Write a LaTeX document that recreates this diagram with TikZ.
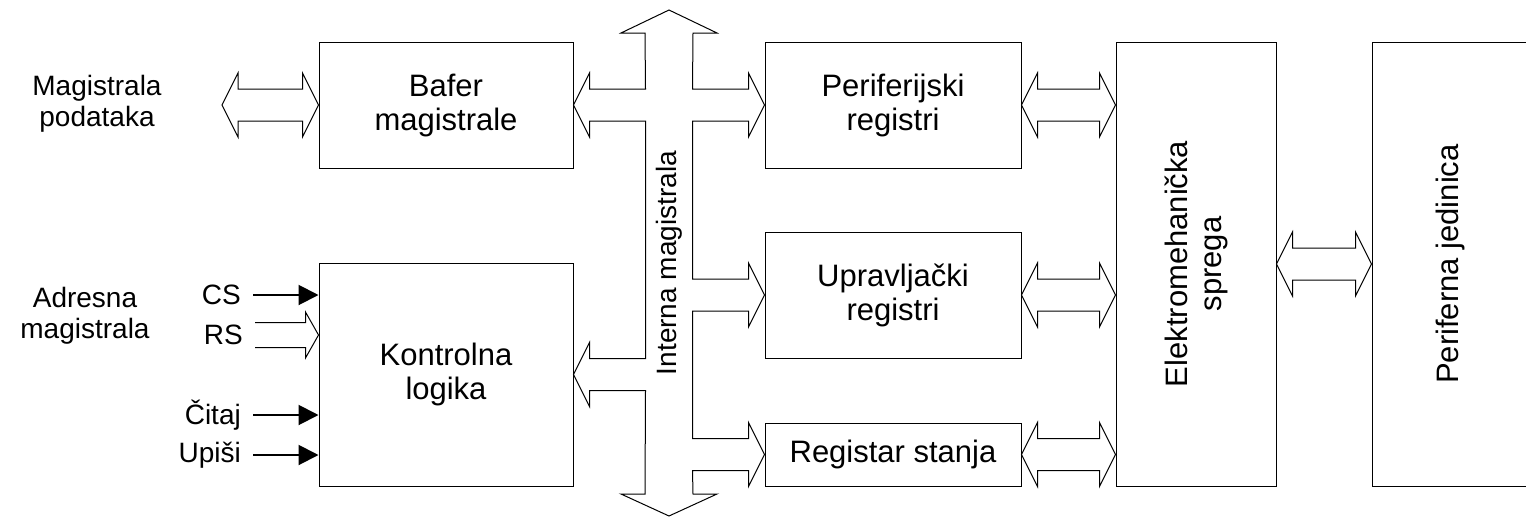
\documentclass[tikz,border=0pt]{standalone}
\usepackage{fontspec}
\setmainfont{Liberation Sans}
\usetikzlibrary{calc,arrows.meta}

\tikzset{
  blok/.style={draw, line width=1pt, align=center, inner sep=0pt,
    minimum width=#1, font=\fontsize{31}{34}\selectfont},
  blok/.default=256pt,
  bus/.style={draw, line width=1pt, line join=miter},
  signal/.style={line width=2pt, -{Triangle[length=20pt,width=20pt]}},
  oznaka/.style={anchor=east, inner xsep=12pt, inner ysep=0pt},
}

\newcommand\dblarrow[2]{%
  \draw[bus] let \p1=(#1), \p2=(#2) in
    (\x1,\y1) -- (\x1+16pt,\y1+32pt) -- (\x1+16pt,\y1+16pt) -- (\x2-16pt,\y1+16pt)
    -- (\x2-16pt,\y1+32pt) -- (\x2,\y1) -- (\x2-16pt,\y1-32pt) -- (\x2-16pt,\y1-16pt)
    -- (\x1+16pt,\y1-16pt) -- (\x1+16pt,\y1-32pt) -- cycle;}

\begin{document}
\begin{tikzpicture}[x=1pt, y=-1pt, font=\fontsize{28}{31}\selectfont]
\useasboundingbox (0,0) rectangle (1526,517);
% blokovi
\node[blok=254pt, minimum height=126pt] (bafer) at (446,105) {Bafer\\magistrale};
\node[blok=254pt, minimum height=223pt] (kontrola) at (446,374.5) {Kontrolna\\logika};
\node[blok, minimum height=126pt] (perif) at (893,105) {Periferijski\\registri};
\node[blok, minimum height=126pt] (uprav) at (893,295) {Upravlja\v{c}ki\\registri};
\node[blok, minimum height=63pt] (status) at (893,454.5) {Registar stanja};
\node[blok=160pt, minimum height=444pt] (elektro) at (1196,264) {};
\node[rotate=90, align=center, font=\fontsize{31}{34}\selectfont] at (elektro) {Elektromehani\v{c}ka\\sprega};
\node[blok=160pt, minimum height=444pt] (perjed) at (1452,264) {};
\node[rotate=90, font=\fontsize{31}{34}\selectfont] at (1450,264) {Periferna jedinica};
% spoljne magistrale
\node[align=center] (mpodlab) at (97,104) {Magistrala\\podataka};
\node[align=center] (madrlab) at (85,316) {Adresna\\magistrala};
\coordinate (mpod) at (222,105);
\node[oznaka] (cs) at (253,295) {CS};
\node[oznaka] (rs) at (255,335) {RS};
\node[oznaka] (citaj) at (253,415) {\v{C}itaj};
\node[oznaka] (upisi) at (253,455) {Upi\v{s}i};
% interna magistrala
\coordinate (bt) at (669,10);
\coordinate (bb) at (669,516);
\draw[bus] (bt) -- ($(bt)+(48,23)$) -- ($(bt)+(24,23)$)
  -- ($(perif.west)+(-72,-16)$) -- ($(perif.west)+(-16,-16)$) -- ($(perif.west)+(-16,-32)$)
  -- (perif.west) -- ($(perif.west)+(-16,32)$) -- ($(perif.west)+(-16,16)$) -- ($(perif.west)+(-72,16)$)
  -- ($(uprav.west)+(-72,-16)$) -- ($(uprav.west)+(-16,-16)$) -- ($(uprav.west)+(-16,-32)$)
  -- (uprav.west) -- ($(uprav.west)+(-16,32)$) -- ($(uprav.west)+(-16,16)$) -- ($(uprav.west)+(-72,16)$)
  -- ($(status.west)+(-72,-16)$) -- ($(status.west)+(-16,-16)$) -- ($(status.west)+(-16,-32)$)
  -- (status.west) -- ($(status.west)+(-16,32)$) -- ($(status.west)+(-16,16)$) -- ($(status.west)+(-72,16)$)
  -- ($(bb)+(24,-22)$) -- ($(bb)+(48,-22)$) -- (bb) -- ($(bb)+(-48,-22)$) -- ($(bb)+(-24,-22)$)
  -- ($(kontrola.east)+(72,16)$) -- ($(kontrola.east)+(16,16)$) -- ($(kontrola.east)+(16,32)$)
  -- (kontrola.east) -- ($(kontrola.east)+(16,-32)$) -- ($(kontrola.east)+(16,-16)$) -- ($(kontrola.east)+(72,-16)$)
  -- ($(bafer.east)+(72,16)$) -- ($(bafer.east)+(16,16)$) -- ($(bafer.east)+(16,32)$)
  -- (bafer.east) -- ($(bafer.east)+(16,-32)$) -- ($(bafer.east)+(16,-16)$) -- ($(bafer.east)+(72,-16)$)
  -- ($(bt)+(-24,23)$) -- ($(bt)+(-48,23)$) -- cycle;
\node[rotate=90] (intlab) at (669,263) {Interna magistrala};
% dvosmerne strelice
\dblarrow{mpod}{bafer.west}
\dblarrow{perif.east}{elektro.west |- perif.east}
\dblarrow{uprav.east}{elektro.west |- uprav.east}
\dblarrow{status.east}{elektro.west |- status.east}
\dblarrow{elektro.east}{perjed.west}
% upravljacki signali
\draw[signal] (cs.east) -- (kontrola.west |- cs.east);
\draw[signal] (citaj.east) -- (kontrola.west |- citaj.east);
\draw[signal] (upisi.east) -- (kontrola.west |- upisi.east);
\draw[bus] let \p1=(rs.east), \p2=(kontrola.west |- rs.east) in
  (\x1,\y1+12.5pt) -- (\x2-13pt,\y1+12.5pt) -- (\x2-13pt,\y1+23pt) -- (\x2,\y1)
  -- (\x2-13pt,\y1-23pt) -- (\x2-13pt,\y1-12.5pt) -- (\x1,\y1-12.5pt);
\end{tikzpicture}
\end{document}
